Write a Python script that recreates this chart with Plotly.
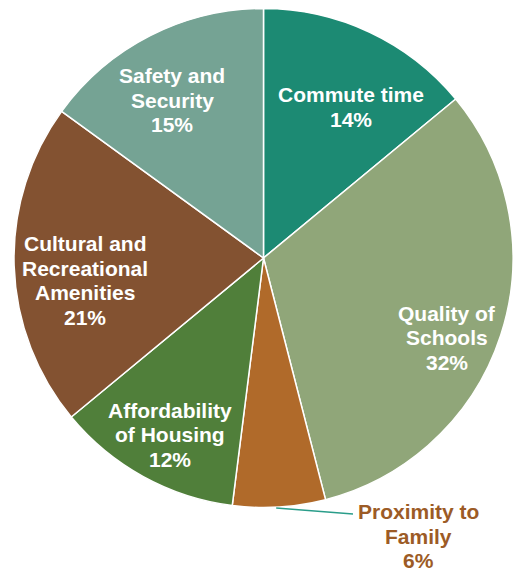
import math
import plotly.graph_objects as go

# Share of respondents naming each factor as most important when choosing a home
factors = [
    "Commute time",
    "Quality of|Schools",
    "Proximity to|Family",
    "Affordability|of Housing",
    "Cultural and|Recreational|Amenities",
    "Safety and|Security",
]
shares = [14, 32, 6, 12, 21, 15]
colors = ["#1c8a73", "#90a679", "#b06a2a", "#507f3a", "#835231", "#75a394"]

W, H = 513, 574
LEFT = 14.0
R = (W - LEFT) / 2
CX, CY = LEFT + R, 258.0
FONT = "Liberation Sans, Arial"
FSIZE = 21
LINE_GAP = 24.5  # px between stacked label lines

fig = go.Figure(
    go.Pie(
        labels=[f.replace("|", " ") for f in factors],
        values=shares,
        sort=False,
        direction="clockwise",
        rotation=0,
        marker=dict(colors=colors, line=dict(color="white", width=1.5)),
        textinfo="none",
        hoverinfo="label+percent",
        domain=dict(x=[LEFT / W, 1.0],
                    y=[1 - (CY + R) / H, 1 - (CY - R) / H]),
        showlegend=False,
    )
)


def stacked_label(lines, px, py, color):
    """Centre a block of bold text lines on pixel position (px, py)."""
    n = len(lines)
    out = []
    for i, line in enumerate(lines):
        ly = py + (i - (n - 1) / 2) * LINE_GAP
        out.append(dict(
            x=px / W, y=1 - ly / H, xref="paper", yref="paper",
            text=f"<b>{line}</b>", showarrow=False,
            font=dict(family=FONT, size=FSIZE, color=color),
            xanchor="center", yanchor="middle",
        ))
    return out


# label placement: radius (fraction of R) and angular nudge (deg) per slice
label_place = [(0.70, 5.0), (0.80, 5.5), None, (0.80, -1.0), (0.72, -5.4), (0.73, -3.0)]

total = sum(shares)
start = 0.0
annotations = []
for name, val, place in zip(factors, shares, label_place):
    sweep = 360.0 * val / total
    mid = start + sweep / 2
    start += sweep
    pct = f"{round(100 * val / total)}%"
    if place is None:
        continue
    frac, nudge = place
    a = math.radians(mid + nudge)
    px = CX + frac * R * math.sin(a)
    py = CY - frac * R * math.cos(a)
    annotations += stacked_label(name.split("|") + [pct], px, py, "white")

# Proximity to Family sits outside with a leader line
prox_i = 2
prox_mid = 360.0 * (sum(shares[:prox_i]) + shares[prox_i] / 2) / total
a = math.radians(prox_mid)
sx = CX + R * math.sin(a)
sy = CY - R * math.cos(a)
annotations += stacked_label(
    factors[prox_i].split("|") + [f"{round(100 * shares[prox_i] / total)}%"],
    418, 536, "#9c5b26")

fig.add_shape(type="line", xref="paper", yref="paper",
              x0=(sx - 3) / W, y0=1 - (sy + 1) / H, x1=353 / W, y1=1 - 514 / H,
              line=dict(color="#2a9d8a", width=1.5))

fig.update_layout(
    width=W, height=H,
    margin=dict(l=0, r=0, t=0, b=0),
    paper_bgcolor="white", plot_bgcolor="white",
    annotations=annotations,
)

fig.write_html("out.html")
